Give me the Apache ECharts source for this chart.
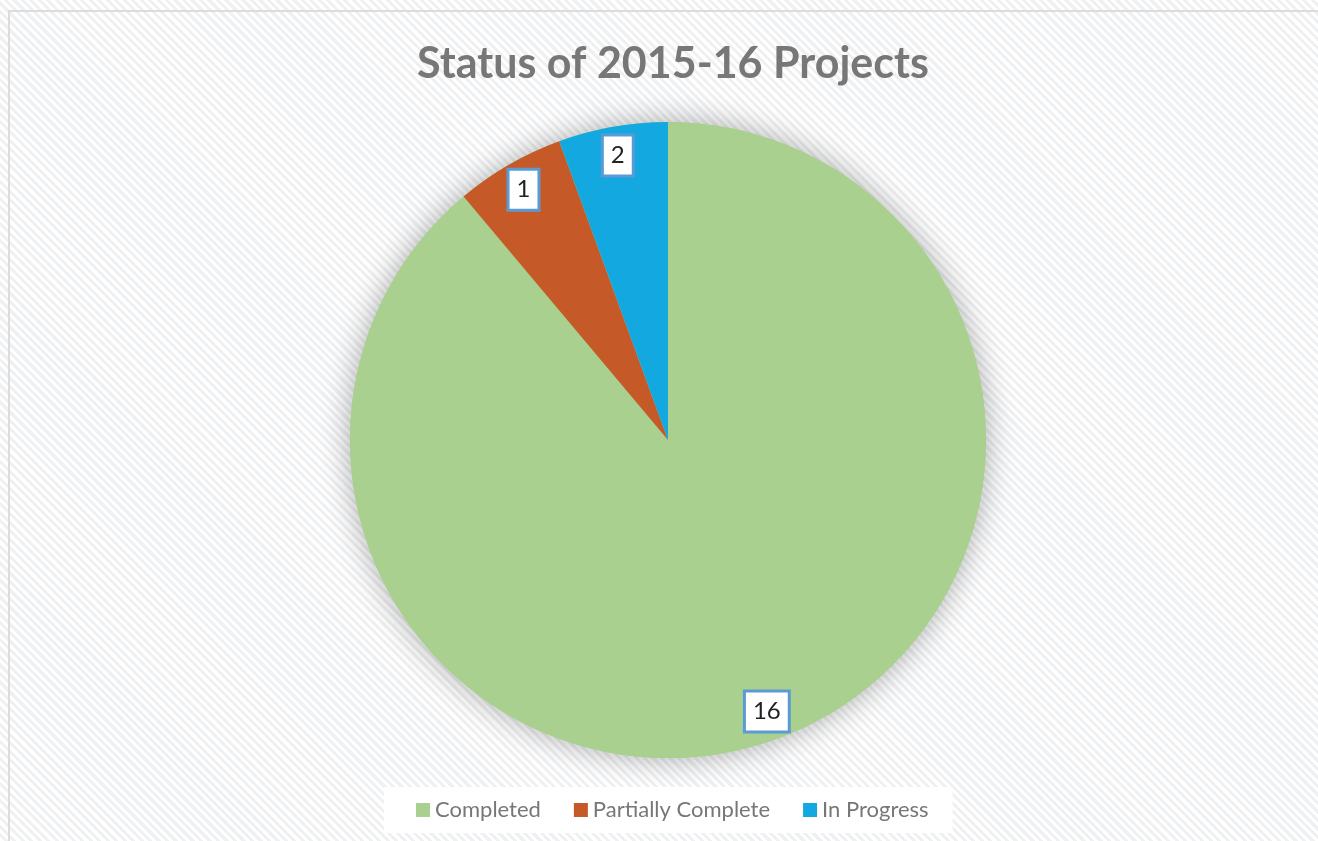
<!DOCTYPE html>
<html>
<head>
<meta charset="utf-8">
<script src="https://cdn.jsdelivr.net/npm/echarts@6/dist/echarts.min.js"></script>
<style>
  html, body { margin: 0; padding: 0; }
  body {
    width: 1318px; height: 841px; overflow: hidden;
    background: repeating-linear-gradient(45deg, #ffffff 0px, #ffffff 3px, #eef0f2 3px, #eef0f2 6px);
  }
  #frame {
    position: absolute; left: 8px; top: 10px; width: 1320px; height: 840px;
    border-left: 2px solid #dcdcdc; border-top: 2px solid #dcdcdc;
  }
  #main { position: absolute; left: 0; top: 0; width: 1318px; height: 841px; }
</style>
</head>
<body>
<div id="frame"></div>
<div id="main"></div>
<script>
// slice sizes as drawn, and the label text printed on each slice
const categories = ['Completed', 'Partially Complete', 'In Progress']
const values = [16, 1, 1]
const labelText = ['16', '1', '2']
const colors = ['#a9d08e', '#c55a28', '#13a9e0']

const font = 'Lato, "Open Sans", sans-serif'
const center = [668, 440]
const R = 318

const chart = echarts.init(document.getElementById('main'))

const slices = categories.map((name, i) => ({
    name: name,
    value: values[i],
    itemStyle: { color: colors[i] }
}))

chart.setOption({
    backgroundColor: 'transparent',
    title: {
        text: 'Status of 2015-16 Projects',
        left: 668,
        textAlign: 'center',
        top: 38,
        textStyle: {
            fontFamily: font,
            fontWeight: 'bold',
            fontSize: 43,
            color: '#777777'
        }
    },
    legend: {
        data: categories,
        left: 384,
        top: 787,
        padding: [12, 24, 12, 32],
        backgroundColor: '#ffffff',
        itemWidth: 14,
        itemHeight: 14,
        itemGap: 33,
        icon: 'rect',
        textStyle: {
            fontFamily: font,
            fontSize: 22,
            color: '#777777',
            padding: [0, 0, 0, 0]
        }
    },
    series: [
        {
            // soft glow under the pie
            type: 'pie',
            center: center,
            radius: R,
            silent: true,
            z: 1,
            label: { show: false },
            labelLine: { show: false },
            data: [{
                value: 1,
                itemStyle: {
                    color: '#a9d08e',
                    shadowBlur: 30,
                    shadowColor: 'rgba(0,0,0,0.32)'
                }
            }],
            animation: false
        },
        {
            type: 'pie',
            center: center,
            radius: R,
            startAngle: 90,
            clockwise: true,
            z: 2,
            label: { show: false },
            labelLine: { show: false },
            data: slices,
            animation: false
        },
        {
            // invisible ring used only to place labels near the rim
            type: 'pie',
            center: center,
            radius: [R - 64, R],
            startAngle: 90,
            clockwise: true,
            silent: true,
            z: 3,
            itemStyle: { color: 'rgba(0,0,0,0)' },
            labelLine: { show: false },
            label: {
                show: true,
                position: 'inside',
                formatter: p => labelText[p.dataIndex],
                fontFamily: font,
                fontSize: 24,
                lineHeight: 26,
                color: '#222222',
                backgroundColor: '#ffffff',
                borderColor: '#5b9bd5',
                borderWidth: 3,
                padding: [6, 7]
            },
            data: categories.map((name, i) => ({ name: name, value: values[i] })),
            animation: false
        }
    ]
})
</script>
</body>
</html>
